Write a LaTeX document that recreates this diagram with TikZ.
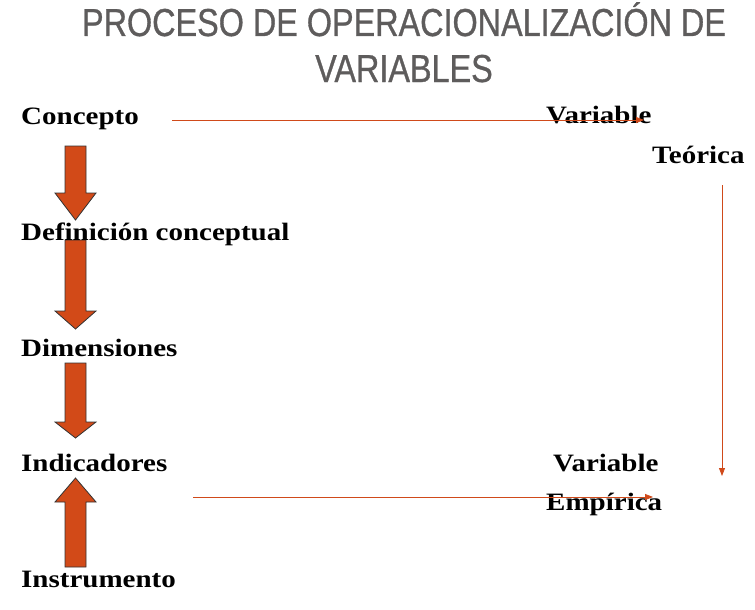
\documentclass[tikz,border=0pt]{standalone}
\usepackage{fontspec}
\setmainfont{Liberation Serif}
\newfontfamily\bodyfont[FakeStretch=1.16]{Liberation Serif}
\newfontfamily\titlefont[FakeStretch=0.83,FakeBold=0.8]{Liberation Sans}
\usetikzlibrary{arrows.meta}
\definecolor{linkred}{HTML}{D04A1A}
\definecolor{blockfill}{HTML}{D24A18}
\definecolor{titlegray}{HTML}{5E5C5C}
\tikzset{
  lbl/.style={anchor=base west,inner sep=0pt,font=\bodyfont\bfseries\fontsize{25}{29}\selectfont,text=black},
  ttl/.style={anchor=base,inner sep=0pt,font=\titlefont\fontsize{39}{44}\selectfont,text=titlegray},
  link/.style={draw=linkred,line width=0.8pt,-{Triangle[length=8pt,width=6pt]}},
  block/.style={draw=black!80,line width=0.8pt,fill=blockfill,line join=miter}
}
\begin{document}
\begin{tikzpicture}[x=1pt,y=-1pt]
\useasboundingbox (0,0) rectangle (755,610);
% title
\node[ttl] (t1) at (404,36) {PROCESO DE OPERACIONALIZACIÓN DE};
\node[ttl] (t2) at (404,82) {VARIABLES};
% block arrows
\draw[block] (65,146) -- (86,146) -- (86,193) -- (96,193) -- (75.5,220) -- (55,193) -- (65,193) -- cycle;
\draw[block] (65,240) -- (86,240) -- (86,311) -- (96,311) -- (75.5,329) -- (55,311) -- (65,311) -- cycle;
\draw[block] (65,363) -- (86,363) -- (86,422) -- (96,422) -- (75.5,438) -- (55,422) -- (65,422) -- cycle;
\draw[block] (65,567) -- (86,567) -- (86,502) -- (96,502) -- (75.5,478) -- (55,502) -- (65,502) -- cycle;
% left labels
\node[lbl] (concepto) at (21,124) {Concepto};
\node[lbl] (definicion) at (21,240) {Definición conceptual};
\node[lbl] (dimensiones) at (21,356) {Dimensiones};
\node[lbl] (indicadores) at (21,471) {Indicadores};
\node[lbl] (instrumento) at (21,587) {Instrumento};
% right labels
\node[lbl] (variable1) at (546,123) {Variable};
\node[lbl] (teorica) at (652,163) {Teórica};
\node[lbl] (variable2) at (553,471) {Variable};
\node[lbl] (empirica) at (546,510) {Empírica};
% connectors
\coordinate (a1) at (172,120);
\coordinate (a2) at (644,120);
\coordinate (b1) at (722,185);
\coordinate (b2) at (722,476);
\coordinate (c1) at (193,497);
\coordinate (c2) at (653,497);
\draw[link] (a1) -- (a2);
\draw[link] (b1) -- (b2);
\draw[link] (c1) -- (c2);
\end{tikzpicture}
\end{document}
